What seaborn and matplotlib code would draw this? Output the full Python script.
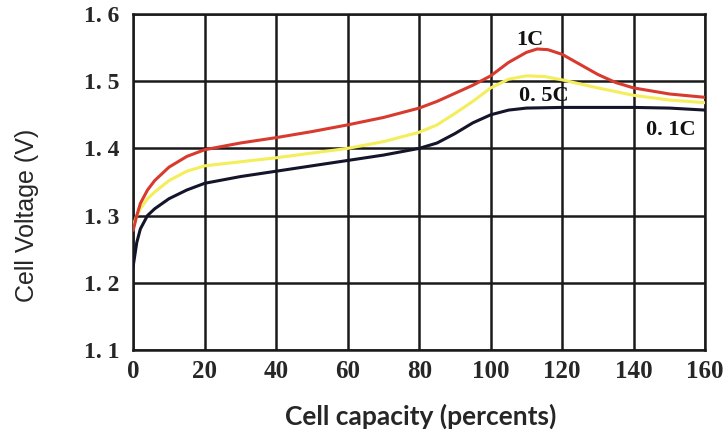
import pandas as pd
import matplotlib.pyplot as plt
import seaborn as sns

# capacity (%) and cell voltage (V)
x_01c = [0, 1, 2, 4, 6, 10, 15, 20, 30, 40, 50, 60, 70, 80, 85, 90, 95, 100, 105, 110, 120, 130, 140, 150, 160]
v_01c = [1.225, 1.26, 1.28, 1.30, 1.31, 1.325, 1.338, 1.348, 1.358, 1.366, 1.374, 1.382, 1.390, 1.400, 1.408,
         1.422, 1.438, 1.450, 1.457, 1.460, 1.461, 1.461, 1.461, 1.460, 1.457]

x_05c = [0, 1, 2, 4, 6, 10, 15, 20, 30, 40, 50, 60, 70, 80, 85, 90, 95, 100, 105, 110, 115, 120, 130, 140, 150, 160]
v_05c = [1.285, 1.30, 1.31, 1.325, 1.335, 1.352, 1.366, 1.374, 1.380, 1.386, 1.393, 1.400, 1.410, 1.424, 1.435,
         1.452, 1.470, 1.490, 1.503, 1.508, 1.507, 1.502, 1.490, 1.479, 1.472, 1.468]

x_1c = [0, 1, 2, 4, 6, 10, 15, 20, 30, 40, 50, 60, 70, 80, 85, 90, 95, 100, 105, 110, 113, 116, 120, 125, 130,
        135, 140, 150, 160]
v_1c = [1.278, 1.30, 1.318, 1.338, 1.352, 1.372, 1.388, 1.398, 1.408, 1.416, 1.425, 1.435, 1.446, 1.460, 1.470,
        1.482, 1.494, 1.508, 1.528, 1.543, 1.548, 1.547, 1.540, 1.525, 1.510, 1.498, 1.490, 1.481, 1.476]

rates = ["0.1C", "0.5C", "1C"]
x_ticks = [0, 20, 40, 60, 80, 100, 120, 140, 160]
y_ticks = [1.1, 1.2, 1.3, 1.4, 1.5, 1.6]

df = pd.concat([
    pd.DataFrame({"capacity": x_01c, "voltage": v_01c, "rate": "0.1C"}),
    pd.DataFrame({"capacity": x_05c, "voltage": v_05c, "rate": "0.5C"}),
    pd.DataFrame({"capacity": x_1c, "voltage": v_1c, "rate": "1C"}),
])

sns.set_style("white")

fig = plt.figure(figsize=(7.24, 4.4), dpi=100)
ax = fig.add_axes([0.184, 0.205, 0.79, 0.763])

# grid first so the curves sit on top
for xv in x_ticks:
    ax.axvline(xv, color="#1a1a1a", lw=1.8, zorder=1)
for yv in y_ticks:
    ax.axhline(yv, color="#1a1a1a", lw=1.8, zorder=1)

palette = {"0.1C": "#14142a", "0.5C": "#f3ee5a", "1C": "#d83a2e"}
sns.lineplot(data=df, x="capacity", y="voltage", hue="rate", hue_order=rates,
             palette=palette, linewidth=2.2, legend=False, ax=ax, zorder=3)

ax.set_xlim(0, 160)
ax.set_ylim(1.1, 1.6)
ax.set_xticks(x_ticks)
ax.set_yticks(y_ticks)
ax.set_xticklabels([str(t) for t in x_ticks], family="Liberation Serif", weight="bold", fontsize=18)
ax.set_yticklabels([f"{t:.1f}".replace(".", ". ") for t in y_ticks], family="Liberation Serif",
                   weight="bold", fontsize=17)
ax.tick_params(axis="x", length=0, pad=7)
ax.tick_params(axis="y", length=0, pad=10)
for s in ax.spines.values():
    s.set_color("#1a1a1a")
    s.set_linewidth(1.8)

lab = dict(family="Liberation Serif", weight="bold", fontsize=16, color="#111111", zorder=4)
ax.text(111, 1.562, "1C", ha="center", va="center", **lab)
ax.text(115, 1.478, "0. 5C", ha="center", va="center", **lab)
ax.text(150.5, 1.428, "0. 1C", ha="center", va="center", **lab)

ax.set_xlabel("Cell capacity (percents)", family="Lato", weight="bold", fontsize=19)
ax.xaxis.set_label_coords(0.503, -0.16)
ax.set_ylabel("Cell Voltage (V)", family="Liberation Sans", fontsize=18)
ax.yaxis.set_label_coords(-0.165, 0.4)

fig.savefig("out.png", dpi=100)
